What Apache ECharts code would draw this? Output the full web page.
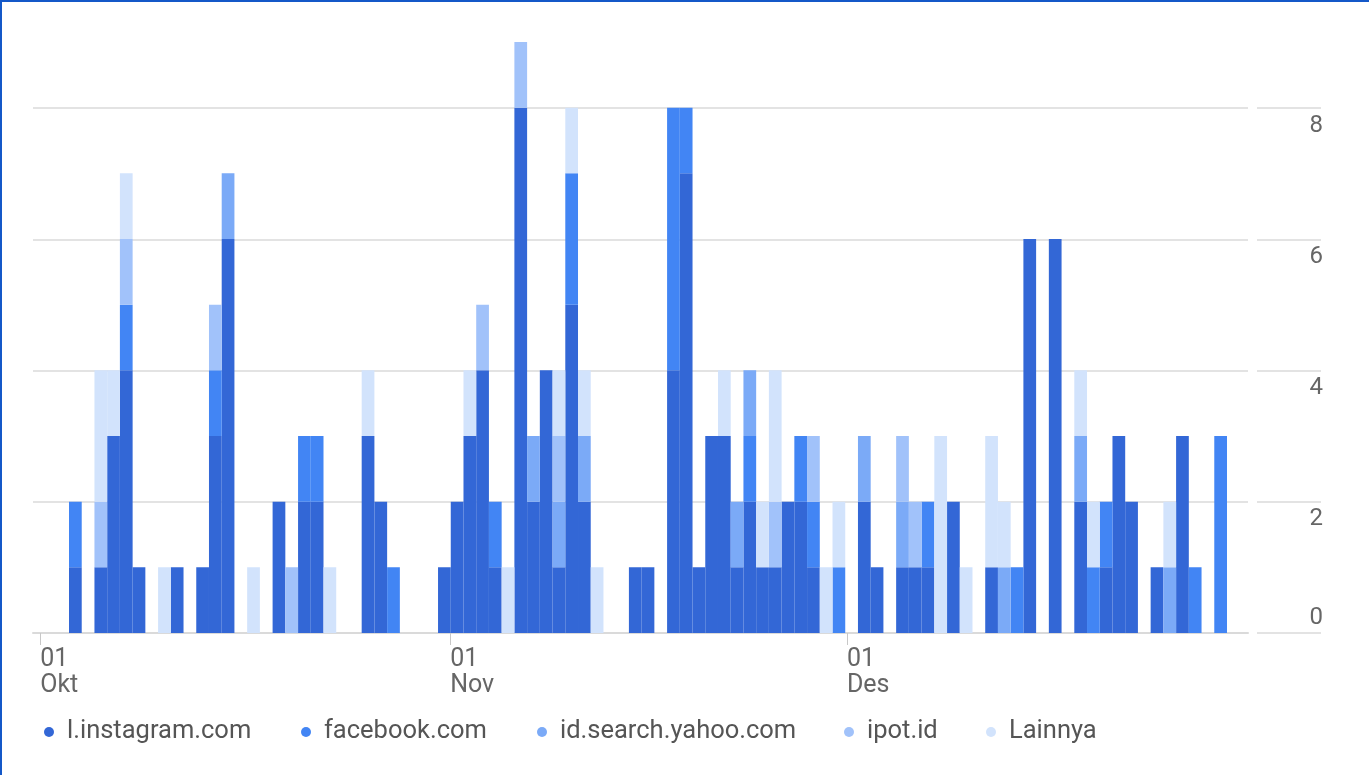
<!DOCTYPE html>
<html>
<head>
<meta charset="utf-8">
<script src="https://cdn.jsdelivr.net/npm/echarts@6/dist/echarts.min.js"></script>
<style>
  html, body { margin: 0; padding: 0; background: #fff; }
  #chart { position: absolute; left: 0; top: 0; width: 1369px; height: 775px; }
  #frame { position: absolute; left: 0; top: 0; width: 1369px; height: 775px;
           box-sizing: border-box; border-top: 2px solid #1458c8; border-left: 2px solid #1458c8;
           pointer-events: none; }
</style>
</head>
<body>
<div id="chart"></div>
<div id="frame"></div>
<script>
// months shown on the axis
const months = ['Okt', 'Nov', 'Des']
const monthDays = [31, 30, 31]
const firstDay = 2 // first bar is 2 Okt

const seriesNames = ['l.instagram.com', 'facebook.com', 'id.search.yahoo.com', 'ipot.id', 'Lainnya']
const colors = ['#3367d6', '#4285f4', '#7baaf7', '#a1c2fa', '#d2e3fc']
// left edge of each legend entry
const legendLeft = [39, 296, 532, 839, 981]

const instagram = [1,0,1,3,4,1,0,0,1,0,
  1,3,6,0,0,0,2,0,2,2,
  0,0,0,3,2,0,0,0,0,1,
  2,3,4,1,0,8,2,4,1,5,
  2,0,0,0,1,1,0,4,7,1,
  3,3,1,2,1,1,2,2,1,0,
  0,0,2,1,0,1,1,1,0,2,
  0,0,1,0,0,6,0,6,0,2,
  0,1,3,2,0,1,0,3,0,0,
  0]
const facebook = [1,0,0,0,1,0,0,0,0,0,
  0,1,0,0,0,0,0,0,1,1,
  0,0,0,0,0,1,0,0,0,0,
  0,0,0,1,0,0,0,0,0,2,
  0,0,0,0,0,0,0,4,1,0,
  0,0,0,1,0,0,0,1,1,0,
  1,0,0,0,0,0,0,1,0,0,
  0,0,0,0,1,0,0,0,0,0,
  1,1,0,0,0,0,0,0,1,0,
  3]
const yahoo = [0,0,0,0,0,0,0,0,0,0,
  0,0,1,0,0,0,0,0,0,0,
  0,0,0,0,0,0,0,0,0,0,
  0,0,0,0,0,0,1,0,1,0,
  1,0,0,0,0,0,0,0,0,0,
  0,0,1,1,0,0,0,0,0,0,
  0,0,1,0,0,1,0,0,0,0,
  0,0,0,1,0,0,0,0,0,1,
  0,0,0,0,0,0,1,0,0,0,
  0]
const ipot = [0,0,1,0,1,0,0,0,0,0,
  0,1,0,0,0,0,0,1,0,0,
  0,0,0,0,0,0,0,0,0,0,
  0,0,1,0,0,1,0,0,1,0,
  0,0,0,0,0,0,0,0,0,0,
  0,0,0,0,0,1,0,0,1,0,
  0,0,0,0,0,1,1,0,0,0,
  0,0,0,0,0,0,0,0,0,0,
  0,0,0,0,0,0,0,0,0,0,
  0]
const lainnya = [0,0,2,1,1,0,0,1,0,0,
  0,0,0,0,1,0,0,0,0,0,
  1,0,0,1,0,0,0,0,0,0,
  0,1,0,0,1,0,0,0,1,1,
  1,1,0,0,0,0,0,0,0,0,
  0,1,0,0,1,2,0,0,0,1,
  1,0,0,0,0,0,0,0,3,0,
  1,0,2,1,0,0,0,0,0,1,
  1,0,0,0,0,0,1,0,0,0,
  0]

// day labels for the bar categories
const days = []
months.forEach((m, mi) => {
  for (let d = (mi === 0 ? firstDay : 1); d <= monthDays[mi]; d++) {
    days.push(String(d).padStart(2, '0') + ' ' + m)
  }
})

// month starts, counted in days from 1 Okt
const monthStarts = []
let acc = 0
monthDays.forEach(n => { monthStarts.push(acc); acc += n })

const chart = echarts.init(document.getElementById('chart'))
const values = [instagram, facebook, yahoo, ipot, lainnya]
const gridLine = { show: true, lineStyle: { color: '#e3e3e3', width: 2 } }

chart.setOption({
  animation: false,
  textStyle: { fontFamily: 'Roboto' },
  color: colors,
  grid: [
    // bars (tallest bar is 9)
    { left: 69, right: 142, top: 42, bottom: 142 },
    // gridlines + month axis (top line is 8)
    { left: 33, right: 121, top: 108, bottom: 142 },
    // short gridline pieces next to the value labels
    { left: 1257, right: 48, top: 108, bottom: 142 }
  ],
  legend: seriesNames.map((name, i) => ({
    left: legendLeft[i],
    top: 714,
    icon: 'circle',
    itemWidth: 26,
    itemHeight: 10,
    textStyle: { fontSize: 25.5, color: '#555', fontFamily: 'Roboto' },
    data: [name]
  })),
  xAxis: [
    { type: 'category', gridIndex: 0, data: days, show: false },
    {
      type: 'value',
      gridIndex: 1,
      min: -0.544,
      max: 91.33,
      splitLine: { show: false },
      axisLine: { show: true, lineStyle: { color: '#dadada', width: 2 } },
      axisTick: {
        show: true,
        customValues: monthStarts,
        length: 12,
        lineStyle: { color: '#c8c8c8', width: 1 }
      },
      axisLabel: {
        customValues: monthStarts,
        align: 'left',
        verticalAlign: 'top',
        margin: 14,
        fontSize: 25,
        lineHeight: 26,
        color: '#666',
        formatter: v => '01\n' + months[monthStarts.indexOf(v)]
      }
    },
    { type: 'value', gridIndex: 2, show: false }
  ],
  yAxis: [
    { type: 'value', gridIndex: 0, min: 0, max: 9, show: false },
    {
      type: 'value',
      gridIndex: 1,
      min: 0,
      max: 8,
      interval: 2,
      axisLine: { show: false },
      axisTick: { show: false },
      axisLabel: { show: false },
      splitLine: gridLine
    },
    {
      type: 'value',
      gridIndex: 2,
      position: 'right',
      min: 0,
      max: 8,
      interval: 2,
      axisLine: { show: false },
      axisTick: { show: false },
      splitLine: gridLine,
      axisLabel: {
        margin: 2,
        align: 'right',
        fontSize: 24,
        color: '#666',
        formatter: v => v === 0 ? '{lo|0}' : '{hi|' + v + '}',
        rich: {
          hi: { padding: [35, 0, 0, 0], fontSize: 24, color: '#666' },
          lo: { padding: [0, 0, 30, 0], fontSize: 24, color: '#666' }
        }
      }
    }
  ],
  series: seriesNames.map((name, i) => ({
    name: name,
    type: 'bar',
    stack: 'total',
    xAxisIndex: 0,
    yAxisIndex: 0,
    barCategoryGap: '0%',
    data: values[i]
  }))
})
</script>
</body>
</html>
